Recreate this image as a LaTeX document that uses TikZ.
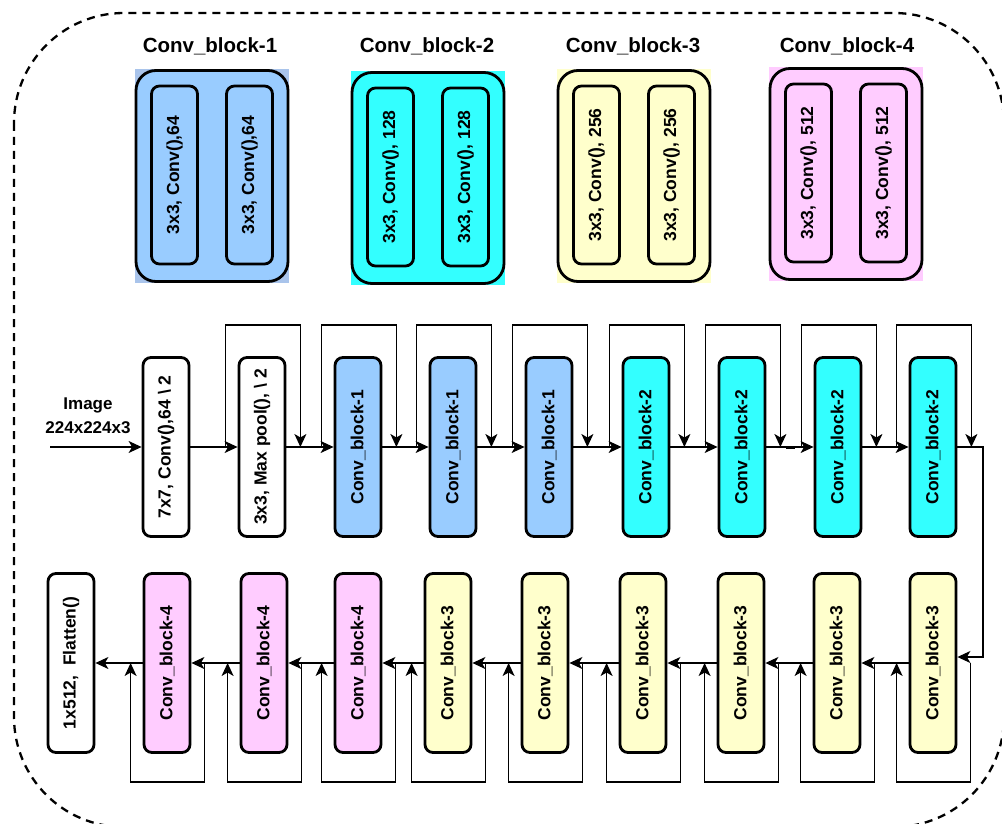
\documentclass[tikz,border=0pt]{standalone}
\usepackage{fontspec}
\setmainfont{Liberation Sans}
\usetikzlibrary{arrows.meta,backgrounds,calc}
\definecolor{cbA}{HTML}{99CCFF}
\definecolor{cbAbg}{HTML}{A9C4EB}
\definecolor{cbB}{HTML}{33FFFF}
\definecolor{cbC}{HTML}{FFFFCC}
\definecolor{cbD}{HTML}{FFCCFF}
\tikzset{
  blk/.style={draw, line width=2.8pt, rounded corners=8pt, minimum width=46pt, minimum height=179pt, inner sep=0pt},
  outer/.style={draw, line width=2.8pt, rounded corners=20pt, minimum width=152pt, minimum height=211pt, inner sep=0pt},
  inner/.style={draw, line width=2.8pt, rounded corners=8pt, minimum width=46pt, minimum height=178pt, inner sep=0pt},
  lbl/.style={rotate=90, font=\bfseries\fontsize{17.5}{20}\selectfont, inner sep=0pt},
  ttl/.style={font=\bfseries\fontsize{20.5}{24}\selectfont, inner sep=0pt},
  txt/.style={font=\bfseries\fontsize{17}{20}\selectfont, inner sep=0pt},
  conn/.style={line width=1.3pt, -{Stealth[length=13pt, width=12pt, inset=3.5pt]}},
}
\begin{document}
\begin{tikzpicture}[x=1pt,y=-1pt]
\useasboundingbox (0,0) rectangle (1002,824);
\clip (0,0) rectangle (1002,824);
% dashed frame
\draw[line width=2.3pt, dash pattern=on 8pt off 6pt, rounded corners=110pt] (14,13) rectangle (1004,827);

% top legend blocks
\foreach \n/\cx/\cy/\col/\bg/\t/\num/\lab in {
  A/212/176/cbA/cbAbg/210/1/{3x3, Conv(),64},
  B/428/178/cbB/cbB/427/2/{3x3, Conv(), 128},
  C/634/176/cbC/cbC/633/3/{3x3, Conv(), 256},
  D/846/174/cbD/cbD/847/4/{3x3, Conv(), 512}}{
  \node[outer, fill=\col] (O\n) at (\cx,\cy) {};
  \begin{scope}[on background layer]
    \fill[\bg] (O\n.south west) rectangle (O\n.north east);
  \end{scope}
  \node[ttl] (T\n) at (\t,46) {Conv\_block-\num};
  \node[inner, fill=\col] (I\n1) at ($(O\n.center)+(-37.5,-1)$) {};
  \node[inner, fill=\col] (I\n2) at ($(O\n.center)+(37.5,-1)$) {};
  \node[lbl] at (I\n1.center) {\lab};
  \node[lbl] at (I\n2.center) {\lab};
}

% top row
\foreach \i/\x/\col/\lab in {
  0/166/white/{7x7, Conv(),64 \textbackslash{} 2},
  1/262/white/{3x3, Max pool(), \textbackslash{} 2},
  2/358/cbA/{Conv\_block-1},
  3/453/cbA/{Conv\_block-1},
  4/549/cbA/{Conv\_block-1},
  5/646/cbB/{Conv\_block-2},
  6/742/cbB/{Conv\_block-2},
  7/838/cbB/{Conv\_block-2},
  8/933/cbB/{Conv\_block-2}}{
  \node[blk, fill=\col] (t\i) at (\x,447) {};
  \node[lbl] at (t\i.center) {\lab};
}

% bottom row
\foreach \i/\x/\col/\lab in {
  0/71/white/{1x512,\ \ Flatten()},
  1/167/cbD/{Conv\_block-4},
  2/264/cbD/{Conv\_block-4},
  3/358/cbD/{Conv\_block-4},
  4/448/cbC/{Conv\_block-3},
  5/545/cbC/{Conv\_block-3},
  6/643/cbC/{Conv\_block-3},
  7/741/cbC/{Conv\_block-3},
  8/837/cbC/{Conv\_block-3},
  9/933/cbC/{Conv\_block-3}}{
  \node[blk, fill=\col] (b\i) at (\x,663) {};
  \node[lbl] at (b\i.center) {\lab};
}

% input
\node[txt] (imgA) at (88,405) {Image};
\node[txt] (imgB) at (88,428) {224x224x3};
\coordinate (in) at (50,447);
\draw[conn] (in) -- (t0.west);

% top main line
\foreach \i [evaluate=\i as \j using int(\i+1)] in {0,...,7}{
  \draw[conn] (t\i.east) -- (t\j.west);
}
% top skip loops
\foreach \i in {1,...,8}{
  \draw[conn] ([xshift=-12pt]t\i.west) -- ++(0,-122) -| ([xshift=14pt]t\i.east);
}
\draw[line width=2pt] (786,448) -- (795,448);

% turn down
\coordinate (rt) at (983,447);
\draw[conn] (t8.east) -- (rt) |- ([yshift=6pt]b9.east);

% bottom main line
\foreach \i [evaluate=\i as \j using int(\i-1)] in {1,...,9}{
  \draw[conn] (b\i.west) -- (b\j.east);
}
% bottom skip loops
\foreach \i in {1,...,9}{
  \draw[conn] ([xshift=13pt]b\i.east) -- ++(0,119) -| ([xshift=-12pt]b\i.west);
}
\end{tikzpicture}
\end{document}
